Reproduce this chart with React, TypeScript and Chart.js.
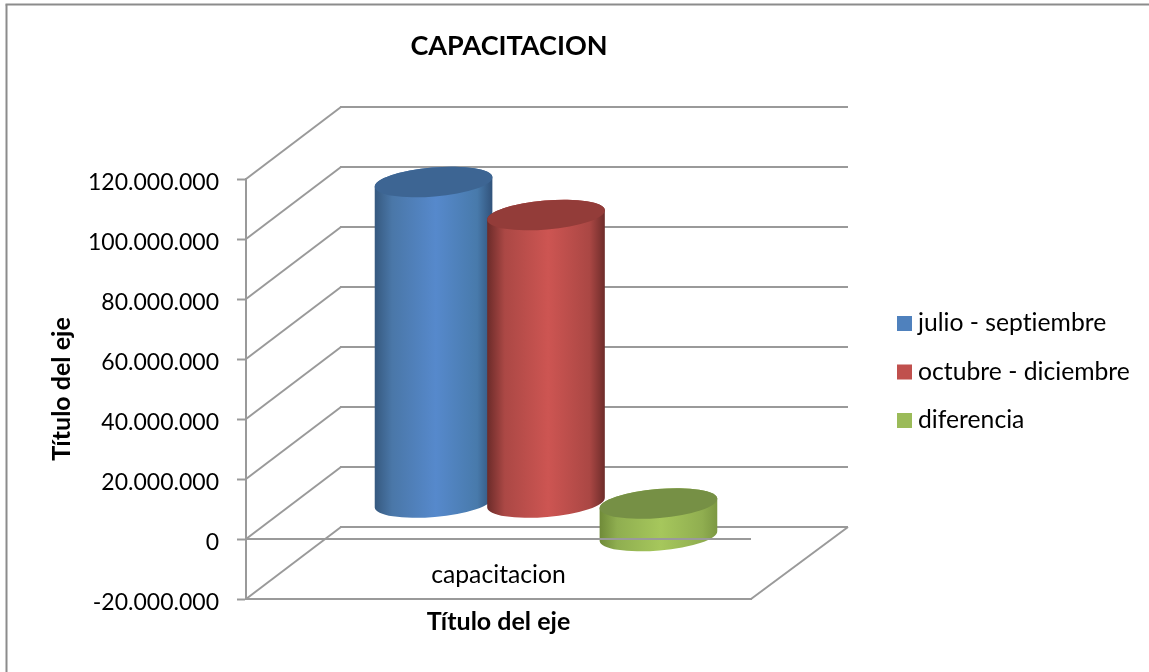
import React, { useEffect, useRef } from "react";
import { Chart, registerables } from "chart.js";

Chart.register(...registerables);

const categories = ["capacitacion"];
const seriesNames = ["julio - septiembre", "octubre - diciembre", "diferencia"];
const julioSeptiembre = [107000000];
const octubreDiciembre = [96000000];
const diferencia = [-11000000];
const legendColors = ["#4F81BD", "#C0504D", "#9BBB59"];
const bodyStops = [
  ["#36597f", "#4a77a8", "#5689cc", "#487aab", "#31527a"],
  ["#6b2b29", "#ab4845", "#cd5552", "#aa4744", "#6d2c2a"],
  ["#6f8a38", "#8fae50", "#a6c75c", "#90ae50", "#7c9842"],
];
const capColors = ["#3d6593", "#933c39", "#769045"];

const FONT = "Lato";
const LINE = "#9a9a9a";
const DX = 95;
const DY = -72;
const TILT = -0.085;
const RY = 14.5;

const fmt = (v: number) => {
  const s = Math.abs(v).toString().replace(/\B(?=(\d{3})+(?!\d))/g, ".");
  return v < 0 ? "-" + s : s;
};

const seg = (ctx: CanvasRenderingContext2D, x1: number, y1: number, x2: number, y2: number) => {
  ctx.beginPath();
  ctx.moveTo(x1, y1);
  ctx.lineTo(x2, y2);
  ctx.stroke();
};

const scene = {
  id: "scene",
  afterLayout(chart: any) {
    chart.titleBlock.left += 10.5;
    chart.titleBlock.right += 10.5;
  },
  beforeDraw(chart: any) {
    (chart.ctx as any).letterSpacing = "0.01px";
    chart.scales.y.getLabelItems().forEach((it: any) => {
      it.options.translation = [it.options.translation[0], it.options.translation[1] + 3.5];
    });
  },
  beforeDatasetsDraw(chart: any) {
    const ctx: CanvasRenderingContext2D = chart.ctx;
    const { left, right } = chart.chartArea;
    const y = chart.scales.y;
    ctx.save();
    ctx.strokeStyle = "#8c8c8c";
    ctx.lineWidth = 2;
    seg(ctx, 6.5, 672, 6.5, 4.5);
    seg(ctx, 5.5, 4.5, 1149, 4.5);
    ctx.strokeStyle = LINE;
    y.ticks.forEach((t: any) => {
      const py = y.getPixelForValue(t.value);
      seg(ctx, left, py, left + DX, py + DY);
      seg(ctx, left + DX - 1, py + DY, right + DX + 2, py + DY);
    });
    const floor = y.getPixelForValue(y.min);
    seg(ctx, right, floor, right + DX + 2, floor + DY);
    chart.data.datasets.forEach((_: any, i: number) => {
      chart.getDatasetMeta(i).data.forEach((el: any) => {
        const cx = el.x + DX / 2;
        const rx = el.width / 2;
        const topY = Math.min(el.y, el.base) + DY / 2;
        const botY = Math.max(el.y, el.base) + DY / 2;
        const g = ctx.createLinearGradient(cx - rx, 0, cx + rx, 0);
        [0, 0.15, 0.52, 0.87, 1].forEach((s, k) => g.addColorStop(s, bodyStops[i][k]));
        ctx.fillStyle = g;
        ctx.beginPath();
        ctx.ellipse(cx, botY, rx, RY, TILT, 0, Math.PI);
        ctx.ellipse(cx, topY, rx, RY, TILT, Math.PI, Math.PI * 2);
        ctx.closePath();
        ctx.fill();
        ctx.fillStyle = capColors[i];
        ctx.beginPath();
        ctx.ellipse(cx, topY, rx, RY, TILT, 0, Math.PI * 2);
        ctx.fill();
      });
    });
    ctx.restore();
    return false;
  },
  afterDraw(chart: any) {
    const ctx: CanvasRenderingContext2D = chart.ctx;
    const { left, right } = chart.chartArea;
    const y = chart.scales.y;
    ctx.save();
    ctx.strokeStyle = LINE;
    ctx.lineWidth = 2;
    const zero = y.getPixelForValue(0);
    seg(ctx, left, zero, right, zero);
    ctx.font = `24.7px ${FONT}`;
    ctx.textBaseline = "middle";
    ctx.textAlign = "left";
    chart.data.datasets.forEach((d: any, i: number) => {
      const rowY = 323.5 + i * 48.5;
      ctx.fillStyle = d.backgroundColor;
      ctx.fillRect(897, rowY - 7.5, 15, 15);
      ctx.fillStyle = "#000";
      ctx.fillText(d.label, 918, rowY);
    });
    ctx.restore();
  },
};

export default function App() {
  const ref = useRef<HTMLCanvasElement>(null);
  useEffect(() => {
    const chart = new Chart(ref.current!, {
      type: "bar",
      data: {
        labels: categories,
        datasets: [julioSeptiembre, octubreDiciembre, diferencia].map((data, i) => ({
          label: seriesNames[i],
          data,
          backgroundColor: legendColors[i],
          clip: false as any,
        })),
      },
      options: {
        responsive: false,
        animation: false,
        events: [],
        categoryPercentage: 0.668,
        barPercentage: 1.05,
        layout: { padding: { top: 0, left: 0, right: 398, bottom: 0 } },
        plugins: {
          legend: { display: false },
          tooltip: { enabled: false },
          title: {
            display: true,
            text: "CAPACITACION",
            fullSize: false,
            color: "#000",
            font: { family: FONT, size: 27, weight: "bold" },
            padding: { top: 30, bottom: 116.6 },
          },
        },
        scales: {
          x: {
            afterFit: (s: any) => { s.height = 73; },
            grid: { display: false, drawTicks: false },
            border: { display: true, color: LINE, width: 2 },
            ticks: { color: "#000", mirror: true, padding: 9, maxRotation: 0, font: { family: FONT, size: 24.7 } },
            title: {
              display: true,
              text: "Título del eje",
              color: "#000",
              font: { family: FONT, size: 25, weight: "bold" },
              padding: { top: 0, bottom: 35 },
            },
          },
          y: {
            min: -20000000,
            max: 120000000,
            afterFit: (s: any) => { s.width = 246; },
            grid: { drawOnChartArea: false, drawTicks: true, tickLength: 9, tickColor: LINE, tickWidth: 2 },
            border: { display: true, color: LINE, width: 2 },
            ticks: {
              stepSize: 20000000,
              color: "#000",
              padding: 18,
              font: { family: FONT, size: 23 },
              callback: (v: any) => fmt(Number(v)),
            },
            title: {
              display: true,
              text: "Título del eje",
              color: "#000",
              font: { family: FONT, size: 25, weight: "bold" },
              padding: { top: 47, bottom: 0 },
            },
          },
        },
      } as any,
      plugins: [scene],
    });
    return () => chart.destroy();
  }, []);
  return (
    <div style={{ position: "fixed", left: 0, top: 0, width: 1149, height: 672, background: "#fff" }}>
      <canvas ref={ref} width={1149} height={672} style={{ display: "block" }} />
    </div>
  );
}
